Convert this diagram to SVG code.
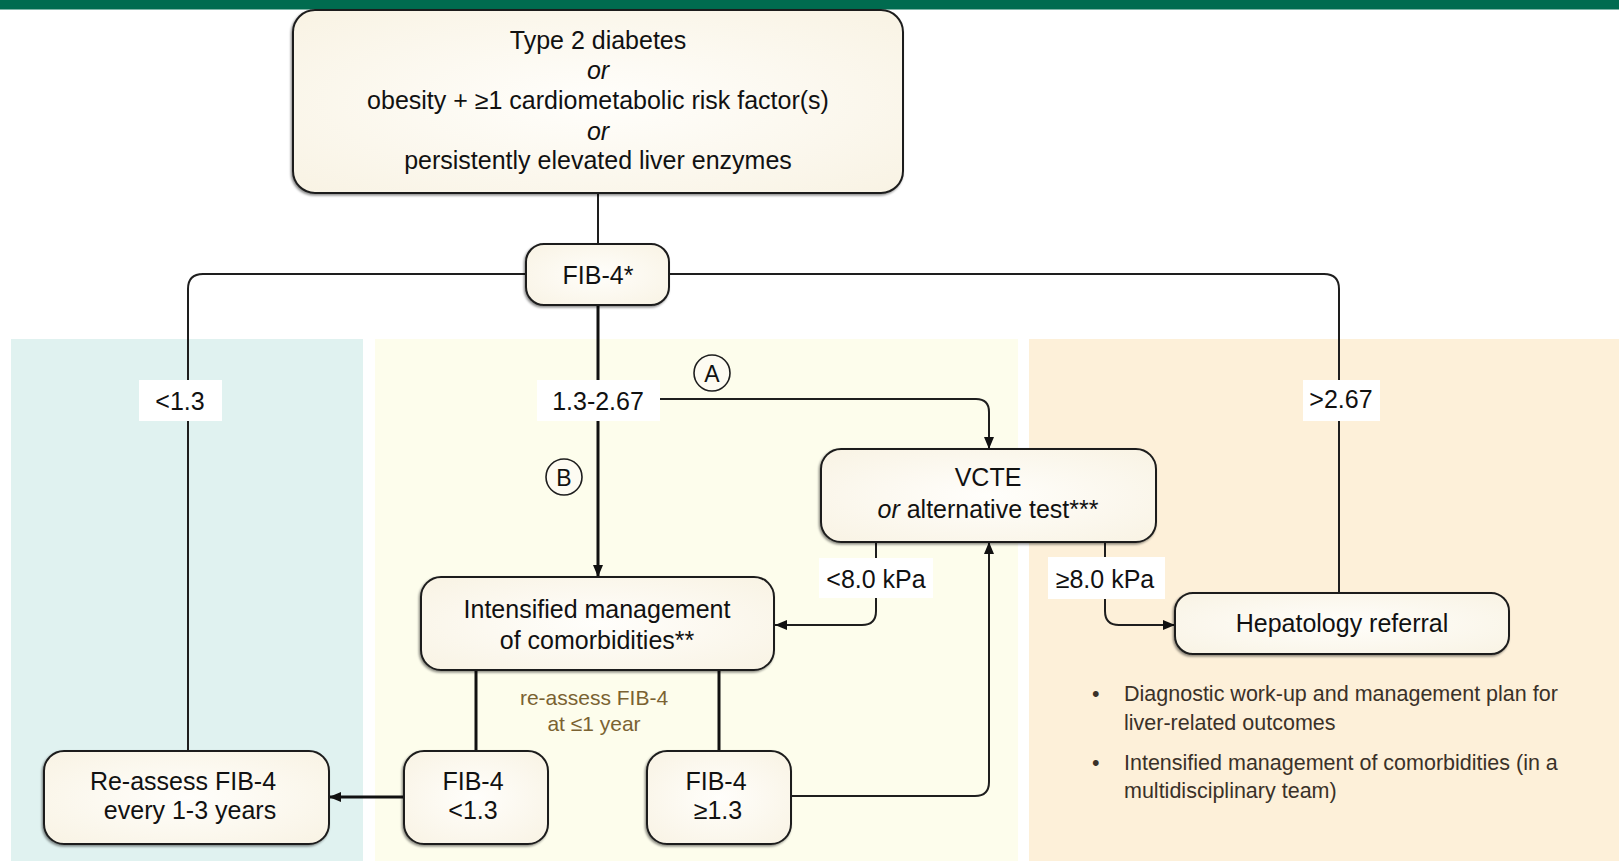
<svg xmlns="http://www.w3.org/2000/svg" width="1619" height="861" viewBox="0 0 1619 861">
<style>
.box{fill:url(#boxfill);stroke:#1e1e1e;stroke-width:2;filter:url(#sh)}
.t{font-family:"Liberation Sans",Arial,sans-serif;font-size:25px;fill:#111;text-anchor:middle}
.sm{font-family:"Liberation Sans",Arial,sans-serif;font-size:21px;fill:#7a6232;text-anchor:middle}
.bl{font-family:"Liberation Sans",Arial,sans-serif;font-size:21.5px;fill:#3a3128}
.lab{fill:#fff}
.c{fill:none;stroke:#1e1e1e;stroke-width:2}
.ck{fill:none;stroke:#111;stroke-width:3}
.circ{fill:#fdfbf2;stroke:#1e1e1e;stroke-width:1.6}
</style>
<defs>
<radialGradient id="boxfill" cx="0.5" cy="0.5" r="0.75">
<stop offset="0" stop-color="#fffefb"/>
<stop offset="1" stop-color="#f8f2e2"/>
</radialGradient>
<filter id="sh" x="-5%" y="-5%" width="110%" height="115%">
<feDropShadow dx="-1.2" dy="1.6" stdDeviation="0.8" flood-color="#000" flood-opacity="0.45"/>
</filter>
<marker id="ar" viewBox="0 0 12 10" refX="12" refY="5" markerWidth="13" markerHeight="10" markerUnits="userSpaceOnUse" orient="auto">
<path d="M0,0 L12,5 L0,10 Z" fill="#111"/>
</marker>
</defs>
<rect width="1619" height="861" fill="#fff"/>
<rect x="0" y="0" width="1619" height="9.5" fill="#006b4f"/>
<rect x="11" y="339" width="352" height="522" fill="#e0f2f0"/>
<rect x="375" y="339" width="643" height="522" fill="#fdfdec"/>
<rect x="1029" y="339" width="590" height="522" fill="#fdf0d9"/>

<g id="connectors">
<path class="c" d="M598,193 V244"/>
<path class="c" d="M526,274 H203 Q188,274 188,289 V751"/>
<path class="c" d="M669,274 H1324 Q1339,274 1339,289 V593"/>
<path class="ck" d="M598,305 V577" marker-end="url(#ar)"/>
<path class="c" d="M660,399 H976 Q989,399 989,412 V449" marker-end="url(#ar)"/>
<path class="c" d="M876,542 V611 Q876,625 862,625 H775" marker-end="url(#ar)"/>
<path class="c" d="M1105,542 V611 Q1105,625 1119,625 H1175" marker-end="url(#ar)"/>
<path class="ck" d="M476,670 V751"/>
<path class="ck" d="M719,670 V751"/>
<path class="ck" d="M404,797 H329" marker-end="url(#ar)"/>
<path class="c" d="M791,796 H975 Q989,796 989,782 V542" marker-end="url(#ar)"/>
</g>

<g id="labels">
<rect class="lab" x="139" y="380" width="83" height="41"/>
<text class="t" x="180" y="410">&lt;1.3</text>
<rect class="lab" x="537" y="380" width="123" height="41"/>
<text class="t" x="598" y="410">1.3-2.67</text>
<rect class="lab" x="1303" y="380" width="77" height="41"/>
<text class="t" x="1341" y="408">&gt;2.67</text>
<rect class="lab" x="819" y="558" width="114" height="40"/>
<text class="t" x="876" y="588">&lt;8.0 kPa</text>
<rect class="lab" x="1048" y="557" width="117" height="42"/>
<text class="t" x="1105" y="588">≥8.0 kPa</text>
<circle class="circ" cx="712" cy="373" r="18"/>
<text class="t" x="712" y="382" style="font-size:23px">A</text>
<circle class="circ" cx="564" cy="477" r="18"/>
<text class="t" x="564" y="486" style="font-size:23px">B</text>
<text class="sm" x="594" y="705">re-assess FIB-4</text>
<text class="sm" x="594" y="731">at ≤1 year</text>
</g>

<g id="n-start">
<rect class="box" x="293" y="10" width="610" height="183" rx="22"/>
<text class="t" x="598" y="49">Type 2 diabetes</text>
<text class="t" x="598" y="79" font-style="italic">or</text>
<text class="t" x="598" y="109">obesity + ≥1 cardiometabolic risk factor(s)</text>
<text class="t" x="598" y="140" font-style="italic">or</text>
<text class="t" x="598" y="169">persistently elevated liver enzymes</text>
</g>
<g id="n-fib4">
<rect class="box" x="526" y="244" width="143" height="61" rx="18"/>
<text class="t" x="598" y="284">FIB-4*</text>
</g>
<g id="n-vcte">
<rect class="box" x="821" y="449" width="335" height="93" rx="20"/>
<text class="t" x="988" y="486">VCTE</text>
<text class="t" x="988" y="518"><tspan font-style="italic">or</tspan> alternative test***</text>
</g>
<g id="n-intensified">
<rect class="box" x="421" y="577" width="353" height="93" rx="20"/>
<text class="t" x="597" y="618">Intensified management</text>
<text class="t" x="597" y="649">of comorbidities**</text>
</g>
<g id="n-hepatology">
<rect class="box" x="1175" y="593" width="334" height="61" rx="18"/>
<text class="t" x="1342" y="632">Hepatology referral</text>
</g>
<g id="n-reassess">
<rect class="box" x="44" y="751" width="285" height="93" rx="20"/>
<text class="t" x="183" y="790">Re-assess FIB-4</text>
<text class="t" x="190" y="819">every 1-3 years</text>
</g>
<g id="n-fib4-low">
<rect class="box" x="404" y="751" width="144" height="93" rx="20"/>
<text class="t" x="473" y="790">FIB-4</text>
<text class="t" x="473" y="819">&lt;1.3</text>
</g>
<g id="n-fib4-high">
<rect class="box" x="647" y="751" width="144" height="93" rx="20"/>
<text class="t" x="716" y="790">FIB-4</text>
<text class="t" x="718" y="819">≥1.3</text>
</g>
<g id="bullets">
<text class="bl" x="1092" y="701">•</text>
<text class="bl" x="1124" y="701">Diagnostic work-up and management plan for</text>
<text class="bl" x="1124" y="730">liver-related outcomes</text>
<text class="bl" x="1092" y="770">•</text>
<text class="bl" x="1124" y="770">Intensified management of comorbidities (in a</text>
<text class="bl" x="1124" y="798">multidisciplinary team)</text>
</g>
</svg>
